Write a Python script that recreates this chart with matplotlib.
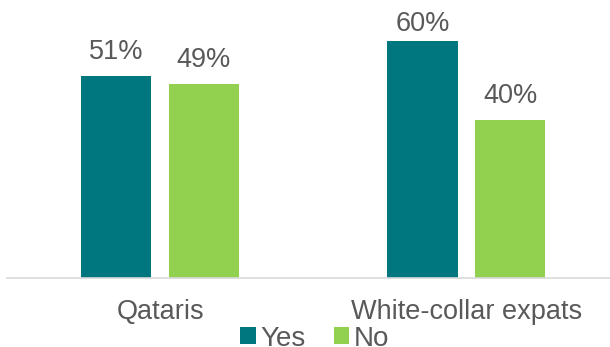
import numpy as np
import matplotlib.pyplot as plt

categories = ['Qataris', 'White-collar expats']
yes_vals = [51, 60]
no_vals = [49, 40]

teal = '#00777F'
green = '#92D050'
grey = '#595959'
fs = 19.5

plt.rcParams['font.family'] = ['Liberation Sans', 'DejaVu Sans']

fig = plt.figure(figsize=(6.1, 3.47), dpi=100)
ax = fig.add_axes([0.0115, 0.199, 1.004, 0.797])

x = np.arange(len(categories))
w = 0.229
off = 0.143
b1 = ax.bar(x - off, yes_vals, w, color=teal, label='Yes')
b2 = ax.bar(x + off, no_vals, w, color=green, label='No')

# value labels sit above the bars, kept inside the top of the plot
for bars, vals in ((b1, yes_vals), (b2, no_vals)):
    for r, v in zip(bars, vals):
        ax.text(r.get_x() + r.get_width() / 2, min(v + 4.3, 62.4), f'{v}%',
                ha='center', va='baseline', fontsize=fs, color=grey)

ax.set_xlim(-0.5, 1.5)
ax.set_ylim(0, 70)
ax.set_xticks(x)
ax.set_xticklabels(categories, fontsize=fs, color=grey)
ax.tick_params(axis='x', length=0, pad=15)
ax.set_yticks([])
for s in ['top', 'left', 'right']:
    ax.spines[s].set_visible(False)
ax.spines['bottom'].set_color('#D9D9D9')
ax.spines['bottom'].set_linewidth(1.2)

fig.legend(loc='center', bbox_to_anchor=(0.516, 0.024), ncol=2, frameon=False,
           fontsize=20, handlelength=0.55, handleheight=0.55, handletextpad=0.18,
           columnspacing=1.0, labelcolor=grey, borderpad=0)

fig.savefig('out.png', dpi=100)
